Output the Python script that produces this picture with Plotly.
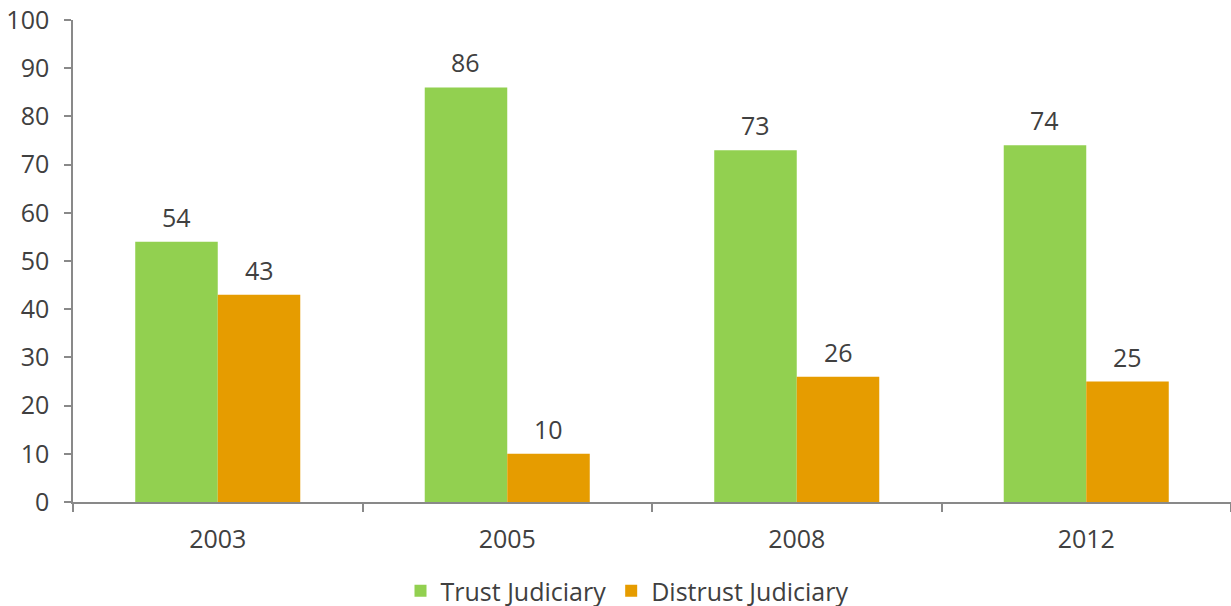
import plotly.graph_objects as go

years = ["2003", "2005", "2008", "2012"]
trust = [54, 86, 73, 74]
distrust = [43, 10, 26, 25]
y_ticks = [0, 10, 20, 30, 40, 50, 60, 70, 80, 90, 100]

GREEN = "#92D050"
ORANGE = "#E69C00"
TEXT = "#404040"
AXIS = "#898989"
FONT = "Open Sans, Lato, sans-serif"

fig = go.Figure()
fig.add_trace(go.Bar(x=years, y=trust, name="Trust Judiciary", marker=dict(color=GREEN, line=dict(width=0))))
fig.add_trace(go.Bar(x=years, y=distrust, name="Distrust Judiciary", marker=dict(color=ORANGE, line=dict(width=0))))

W, H = 1231, 606
ml, mr, mt, mb = 73, 0, 20, 104
plot_w = W - ml - mr
plot_h = H - mt - mb
cat_w = plot_w / len(years)
bargap = 0.43
bar_px = cat_w * (1 - bargap) / 2

annotations = []
for i, yr in enumerate(years):
    for val, sh in ((trust[i], -bar_px / 2), (distrust[i], bar_px / 2)):
        annotations.append(dict(x=i, y=val, xref="x", yref="y", text=str(val), showarrow=False,
                                xshift=sh, yshift=6, yanchor="bottom",
                                font=dict(family=FONT, size=25, color=TEXT)))

fig.update_layout(
    width=W, height=H,
    margin=dict(l=ml, r=mr, t=mt, b=mb, autoexpand=False),
    barmode="group", bargap=bargap, bargroupgap=0,
    plot_bgcolor="white", paper_bgcolor="white",
    font=dict(family=FONT, size=25, color=TEXT),
    showlegend=True,
    legend=dict(orientation="h", x=(627 - ml) / plot_w, xanchor="center",
                y=-(591 - (H - mb)) / plot_h, yanchor="middle",
                font=dict(family=FONT, size=25, color=TEXT), itemwidth=30, traceorder="normal"),
    annotations=annotations,
    xaxis=dict(type="category", range=[-0.5, len(years) - 0.5], tickson="boundaries", ticks="outside",
               ticklen=8, tickcolor=AXIS, tickwidth=1.5, showline=True, linecolor=AXIS, linewidth=1.5,
               showgrid=False, tickangle=0, automargin=False, ticklabelstandoff=14,
               ticklabeloverflow="allow",
               tickfont=dict(family=FONT, size=25, color=TEXT)),
    yaxis=dict(range=[0, 100], tickvals=y_ticks, ticks="outside", ticklen=7, tickcolor=AXIS,
               tickwidth=1.5, showline=True, linecolor=AXIS, linewidth=1.5, showgrid=False,
               zeroline=False, automargin=False, ticklabelstandoff=10, ticklabeloverflow="allow",
               tickfont=dict(family=FONT, size=25, color=TEXT)),
)

fig.write_html("out.html", config={"displayModeBar": False},
               post_script="document.body.style.margin='0';")
